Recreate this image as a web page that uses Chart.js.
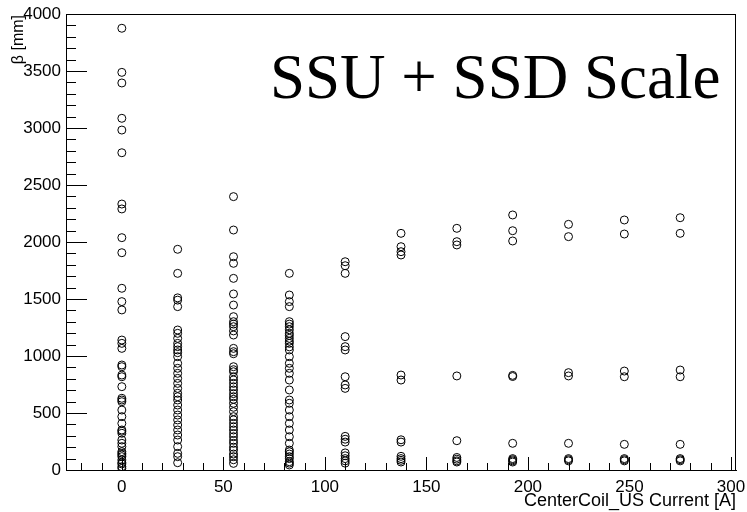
<!DOCTYPE html>
<html>
<head>
<meta charset="utf-8">
<script src="https://cdn.jsdelivr.net/npm/chart.js@4.4.1/dist/chart.umd.min.js"></script>
<style>
  html, body { margin: 0; padding: 0; background: #fff; }
  #wrap { width: 747px; height: 512px; }
</style>
</head>
<body>
<div id="wrap"><canvas id="betaScatter" width="747" height="512"></canvas></div>
<script>
// CenterCoil_US current settings [A]
var currents = [0, 27.5, 55, 82.5, 110, 137.5, 165, 192.5, 220, 247.5, 275];

// beta [mm], one list per current setting
var beta_0A = [3875, 3488, 3395, 3085, 2982, 2783, 2333, 2290, 2038, 1906, 1594, 1477, 1404,
  1140, 1111, 1067, 921, 906, 833, 818, 731, 629, 614, 599, 526, 468, 409, 351, 340, 322,
  263, 234, 205, 161, 146, 132, 117, 88, 64, 53, 29, 15];
var beta_27_5A = [1936, 1725, 1510, 1490, 1433, 1228, 1199, 1155, 1111, 1082, 1053, 1029, 994,
  936, 892, 848, 804, 760, 716, 673, 643, 614, 570, 526, 482, 439, 395, 351, 307, 263,
  205, 146, 117, 64];
var beta_55A = [2398, 2105, 1871, 1813, 1681, 1544, 1447, 1345, 1301, 1280, 1257, 1220, 1184,
  1067, 1038, 1020, 906, 880, 862, 818, 790, 760, 730, 702, 670, 643, 620, 585, 550, 512,
  468, 440, 409, 380, 351, 320, 292, 260, 234, 200, 175, 140, 117, 90, 58];
var beta_82_5A = [1725, 1535, 1477, 1433, 1301, 1280, 1257, 1230, 1199, 1180, 1155, 1130, 1111,
  1080, 1053, 994, 936, 892, 848, 789, 702, 614, 585, 526, 468, 409, 351, 292, 234, 175,
  160, 140, 117, 100, 73, 60, 44];
var beta_110A = [1827, 1792, 1725, 1170, 1082, 1053, 818, 746, 716, 295, 270, 245, 150, 125,
  100, 80, 60];
var beta_137_5A = [2076, 1959, 1915, 1886, 833, 789, 265, 245, 120, 100, 85, 70];
var beta_165A = [2120, 2003, 1974, 825, 257, 110, 95, 80, 70];
var beta_192_5A = [2237, 2099, 2009, 830, 820, 234, 100, 90, 80, 70];
var beta_220A = [2155, 2047, 854, 825, 234, 100, 90, 80];
var beta_247_5A = [2193, 2070, 868, 818, 225, 100, 90, 80];
var beta_275A = [2213, 2076, 877, 818, 225, 100, 90, 80];

var xTickValues = [0, 50, 100, 150, 200, 250, 300];
var yTickValues = [0, 500, 1000, 1500, 2000, 2500, 3000, 3500, 4000];

var betaLists = [beta_0A, beta_27_5A, beta_55A, beta_82_5A, beta_110A, beta_137_5A,
  beta_165A, beta_192_5A, beta_220A, beta_247_5A, beta_275A];

// flatten into x/y points for the scatter
var points = [];
betaLists.forEach(function (list, i) {
  list.forEach(function (b) {
    points.push({ x: currents[i], y: b });
  });
});

// ROOT-like frame: box, inward ticks, axis titles and the big label
var rootFrame = {
  id: 'rootFrame',
  afterDraw: function (chart) {
    var ctx = chart.ctx;
    var area = chart.chartArea;
    var xs = chart.scales.x, ys = chart.scales.y;
    ctx.save();
    ctx.strokeStyle = '#000';
    ctx.lineWidth = 1;
    ctx.strokeRect(area.left + 0.5, area.top + 0.5, area.right - area.left - 1, area.bottom - area.top);

    ctx.beginPath();
    for (var v = 0; v <= 4000; v += 100) {
      var py = Math.round(ys.getPixelForValue(v)) + 0.5;
      var len = (v % 500 === 0) ? 21 : 10;
      ctx.moveTo(area.left, py);
      ctx.lineTo(area.left + len, py);
    }
    for (var u = -20; u <= 300; u += 10) {
      var px = Math.round(xs.getPixelForValue(u)) + 0.5;
      var l2 = (u % 50 === 0) ? 13 : 7;
      ctx.moveTo(px, area.bottom);
      ctx.lineTo(px, area.bottom - l2);
    }
    ctx.stroke();

    ctx.fillStyle = '#000';
    // x axis title
    ctx.font = '18px "Liberation Sans", Arial, sans-serif';
    ctx.textAlign = 'right';
    ctx.textBaseline = 'alphabetic';
    ctx.fillText('CenterCoil_US Current [A]', area.right, 506);

    // y axis title
    ctx.save();
    ctx.translate(19, area.top + 1);
    ctx.rotate(-Math.PI / 2);
    ctx.font = '16px "Liberation Sans", Arial, sans-serif';
    ctx.textAlign = 'right';
    ctx.textBaseline = 'middle';
    ctx.fillText('\u03b2 [mm]', 0, 0);
    ctx.restore();

    // label in the plot
    ctx.font = '63px "Liberation Serif", "Times New Roman", serif';
    ctx.textAlign = 'left';
    ctx.textBaseline = 'alphabetic';
    ctx.fillText('SSU + SSD Scale', 270, 98);
    ctx.restore();
  }
};

var ctx = document.getElementById('betaScatter').getContext('2d');
var betaChart = new Chart(ctx, {
  type: 'scatter',
  data: {
    datasets: [{
      label: 'beta',
      data: points,
      pointStyle: 'circle',
      pointRadius: 4,
      pointBorderWidth: 1,
      pointBorderColor: '#000',
      pointBackgroundColor: 'rgba(0,0,0,0)',
      showLine: false
    }]
  },
  options: {
    responsive: false,
    animation: false,
    devicePixelRatio: 1,
    layout: { padding: { top: 14, right: 11, left: 0, bottom: 0 } },
    plugins: {
      legend: { display: false },
      tooltip: { enabled: false }
    },
    scales: {
      x: {
        type: 'linear',
        min: -27.5,
        max: 302.5,
        afterBuildTicks: function (scale) {
          scale.ticks = xTickValues.map(function (v) { return { value: v }; });
        },
        afterFit: function (scale) {
          scale.height = 42;
          scale.paddingLeft = 0;
          scale.paddingRight = 0;
        },
        grid: { display: false, drawTicks: false },
        border: { display: true, color: '#000', width: 1 },
        ticks: {
          color: '#000',
          padding: 7,
          maxRotation: 0,
          callback: function (v) { return String(v); },
          font: { family: '"Liberation Sans", Arial, sans-serif', size: 17 }
        }
      },
      y: {
        type: 'linear',
        min: 0,
        max: 4000,
        afterBuildTicks: function (scale) {
          scale.ticks = yTickValues.map(function (v) { return { value: v }; });
        },
        afterFit: function (scale) {
          scale.width = 66;
          scale.paddingTop = 0;
          scale.paddingBottom = 0;
        },
        grid: { display: false, drawTicks: false },
        border: { display: true, color: '#000', width: 1 },
        ticks: {
          color: '#000',
          padding: 5,
          callback: function (v) { return String(v); },
          font: { family: '"Liberation Sans", Arial, sans-serif', size: 17 }
        }
      }
    }
  },
  plugins: [rootFrame]
});
</script>
</body>
</html>
